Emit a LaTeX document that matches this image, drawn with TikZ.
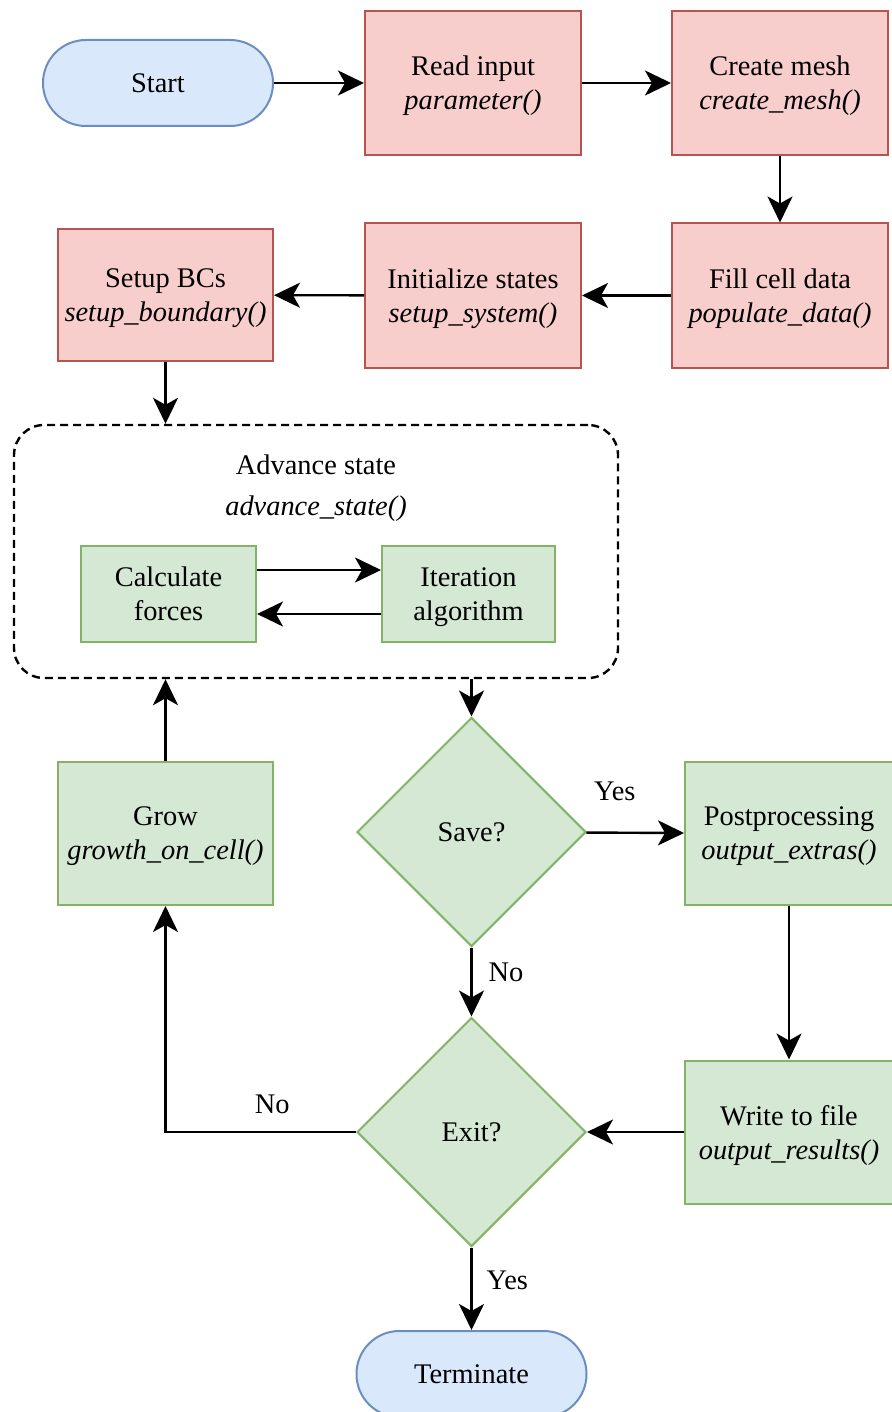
\documentclass[tikz,border=0pt]{standalone}
\usepackage{fontspec}
\setmainfont{Liberation Serif}
\usetikzlibrary{positioning, arrows.meta, shapes.geometric}

\definecolor{termfill}{HTML}{DAE8FC}
\definecolor{termline}{HTML}{6C8EBF}
\definecolor{redfill}{HTML}{F8CECC}
\definecolor{redline}{HTML}{B85450}
\definecolor{grnfill}{HTML}{D5E8D4}
\definecolor{grnline}{HTML}{82B366}

\begin{document}
\begin{tikzpicture}[x=0.5pt, y=-0.5pt,
      font=\fontsize{14.2pt}{17pt}\selectfont,
      termnode/.style={draw=termline, fill=termfill, line width=1pt, rounded corners=21.4pt, minimum width=115pt, minimum height=43pt, inner sep=2pt},
      redbox/.style={draw=redline, fill=redfill, line width=1pt, align=center, text depth=0pt, minimum width=108pt, minimum height=72pt, inner sep=2pt},
      grnbox/.style={draw=grnline, fill=grnfill, line width=1pt, align=center, text depth=0pt, minimum width=108pt, minimum height=71.5pt, inner sep=2pt},
      decide/.style={diamond, draw=grnline, fill=grnfill, line width=1pt, aspect=1, minimum size=114.5pt, inner sep=0pt},
      lbl/.style={inner sep=2pt},
      flowarr/.style={-{Stealth[length=13pt, width=12.5pt, inset=3.5pt]}, line width=1.2pt}]

      \clip (0,0) rectangle (892,1412);

      % baris atas
      \node[termnode] (start) at (158,83) {Start};
      \node[redbox] (read) at (473,83) {Read input\\ \textit{parameter()}};
      \node[redbox] (mesh) at (780,83) {Create mesh\\ \textit{create\_mesh()}};

      \draw[flowarr] (start) -- (read);
      \draw[flowarr] (read) -- (mesh);

      % baris kedua
      \node[redbox] (filldata) at (780,295.5) {Fill cell data\\ \textit{populate\_data()}};
      \node[redbox] (init) at (473,295.5) {Initialize states\\ \textit{setup\_system()}};
      \node[redbox, minimum width=107.5pt, minimum height=66pt] (setup) at (165.5,295) {Setup BCs\\ \textit{setup\_boundary()}};

      \draw[flowarr] (mesh) -- (filldata);
      \draw[flowarr] (filldata) -- (init);
      \draw[flowarr] (init) -- (setup);

      % advance state (kotak putus-putus)
      \node[draw, dash pattern=on 4pt off 2.5pt, line width=1.2pt, rounded corners=15pt, minimum width=302pt, minimum height=126.5pt] (adv) at (316,551.5) {};
      \node[align=center, text depth=0pt, font=\fontsize{14.2pt}{20.5pt}\selectfont] (advtxt) at (316,485.5) {Advance state\\ \textit{advance\_state()}};
      \node[grnbox, minimum width=87.5pt, minimum height=48pt] (calc) at (168.5,594) {Calculate\\ forces};
      \node[grnbox, minimum width=86.5pt, minimum height=48pt] (iter) at (468.5,594) {Iteration\\ algorithm};

      \draw[flowarr] ([yshift=12pt]calc.east) -- ([yshift=12pt]iter.west);
      \draw[flowarr] ([yshift=-10pt]iter.west) -- ([yshift=-10pt]calc.east);
      \draw[flowarr] (setup.south) -- (setup.south |- adv.north);

      % keputusan
      \node[decide] (save) at (471.5,832) {Save?};
      \node[decide] (exit) at (471.5,1132) {Exit?};
      \node[grnbox, minimum width=107.5pt] (grow) at (165.5,833.5) {Grow\\ \textit{growth\_on\_cell()}};
      \node[grnbox, minimum width=104pt] (post) at (789,833.5) {Postprocessing\\ \textit{output\_extras()}};
      \node[grnbox, minimum width=104pt] (write) at (789,1132) {Write to file\\ \textit{output\_results()}};
      \node[termnode] (term) at (471.5,1374) {Terminate};

      \draw[flowarr] (save.north |- adv.south) -- (save.north);
      \draw[flowarr] (grow.north) -- (grow.north |- adv.south);
      \draw[flowarr] (save) -- node[lbl, pos=0.29, above=13.5pt] {Yes} (post);
      \draw[flowarr] (save) -- node[lbl, pos=0.36, right=6pt] {No} (exit);
      \draw[flowarr] (post) -- (write);
      \draw[flowarr] (write) -- (exit);
      \draw[flowarr] (exit.west) -| node[lbl, pos=0.22, above=6.5pt] {No} (grow.south);
      \draw[flowarr] (exit) -- node[lbl, pos=0.4, right=5pt] {Yes} (term);
\end{tikzpicture}
\end{document}
